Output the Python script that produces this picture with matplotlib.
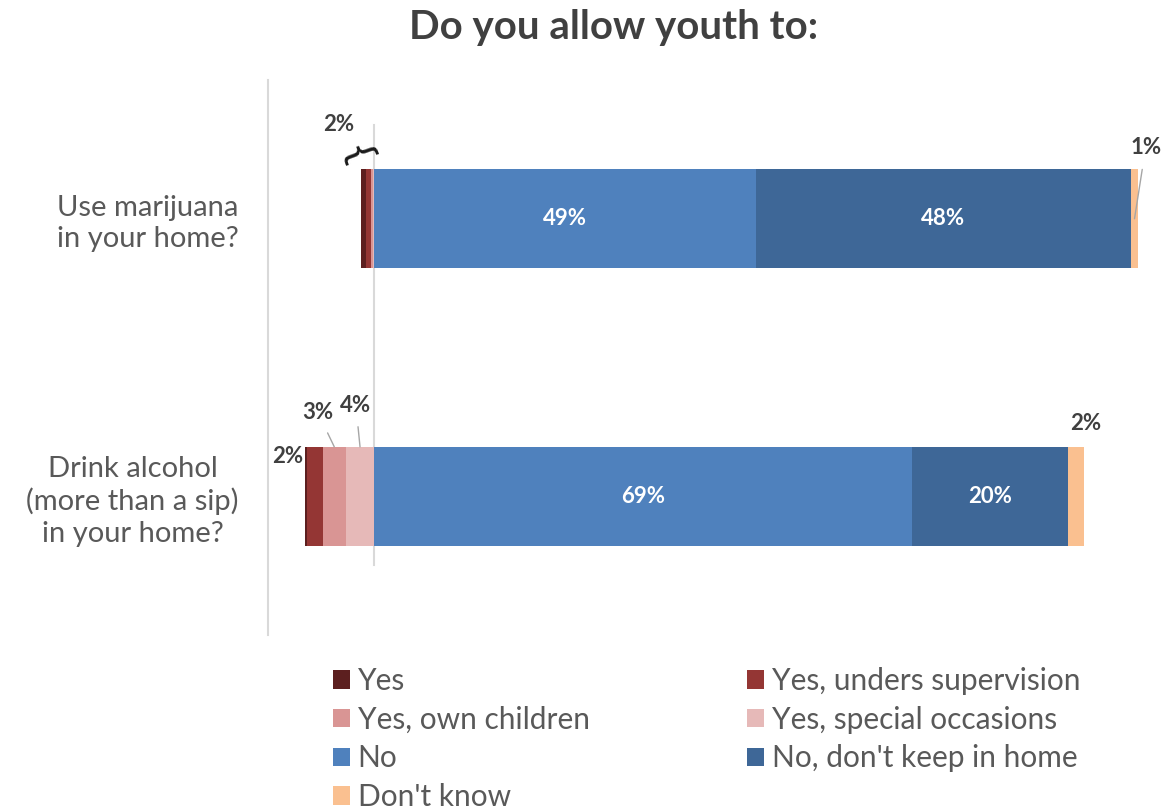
import numpy as np
import matplotlib
matplotlib.use('Agg')
import matplotlib.pyplot as plt

plt.rcParams['font.family'] = ['Lato', 'DejaVu Sans']

categories = ['Use marijuana\nin your home?', 'Drink alcohol\n(more than a sip)\nin your home?']
yes = np.array([0.6, 0.3])
yes_supervision = np.array([0.6, 2.0])
yes_own = np.array([0.25, 3.0])
yes_special = np.array([0.2, 3.6])
no = np.array([49, 69])
no_dont_keep = np.array([48, 20])
dont_know = np.array([1, 2])

colors = {
    'Yes': '#5C1F1F',
    'Yes, unders supervision': '#943634',
    'Yes, own children': '#D99594',
    'Yes, special occasions': '#E6B9B8',
    'No': '#4F81BD',
    "No, don't keep in home": '#3E6797',
    "Don't know": '#FAC090',
}

fig = plt.figure(figsize=(11.68, 8.11), dpi=100)
ax = fig.add_axes([268 / 1168, 1 - 635 / 811, (1154 - 268) / 1168, 555 / 811])

y = np.arange(len(categories))
h = 0.356

# negative side (stacked outward from zero)
left_special = -yes_special
left_own = left_special - yes_own
left_sup = left_own - yes_supervision
left_yes = left_sup - yes
bars = {}
bars['Yes'] = ax.barh(y, yes, left=left_yes, height=h, color=colors['Yes'])
bars['Yes, unders supervision'] = ax.barh(y, yes_supervision, left=left_sup, height=h,
                                          color=colors['Yes, unders supervision'])
bars['Yes, own children'] = ax.barh(y, yes_own, left=left_own, height=h, color=colors['Yes, own children'])
bars['Yes, special occasions'] = ax.barh(y, yes_special, left=left_special, height=h,
                                         color=colors['Yes, special occasions'])
# positive side
bars['No'] = ax.barh(y, no, left=0, height=h, color=colors['No'])
bars["No, don't keep in home"] = ax.barh(y, no_dont_keep, left=no, height=h,
                                         color=colors["No, don't keep in home"])
bars["Don't know"] = ax.barh(y, dont_know, left=no + no_dont_keep, height=h, color=colors["Don't know"])

ax.set_xlim(-13.6, 100)
ax.set_ylim(1.5, -0.5)

# white labels inside blue bars
for i in range(len(categories)):
    ax.text(no[i] / 2, y[i], f'{no[i]}%', ha='center', va='center', color='white',
            fontsize=16, fontweight='bold')
    ax.text(no[i] + no_dont_keep[i] / 2, y[i], f'{no_dont_keep[i]}%', ha='center', va='center',
            color='white', fontsize=16, fontweight='bold')

lab = dict(fontsize=16, fontweight='bold', color='#404040')
lead = dict(arrowstyle='-', color='#A6A6A6', lw=1, shrinkA=6, shrinkB=0)

# marijuana: combined yes label with brace
tot_yes = yes + yes_supervision + yes_own + yes_special
ax.annotate(f'{round(tot_yes[0])}%', xy=(left_yes[0], y[0] - h / 2), xytext=(-16, 32),
            textcoords='offset points', ha='center', va='center', **lab)
ax.annotate('{', xy=(left_yes[0] / 2, y[0] - h / 2), xytext=(-9, 9), textcoords='offset points',
            ha='center', va='center', rotation=-70, fontsize=27, color='#1A1A1A',
            family='DejaVu Sans')
# marijuana don't know
x_dk = no[0] + no_dont_keep[0] + dont_know[0] / 2
ax.annotate(f'{dont_know[0]}%', xy=(x_dk, y[0]), xytext=(8, 51), textcoords='offset points',
            ha='center', va='center', arrowprops=lead, **lab)

# alcohol
ax.annotate(f'{round(yes_supervision[1])}%', xy=(left_yes[1], y[1] - h / 2), xytext=(-1, -7),
            textcoords='offset points', ha='right', va='center', **lab)
ax.annotate(f'{round(yes_own[1])}%', xy=(left_own[1] + yes_own[1] / 2, y[1] - h / 2),
            xytext=(-12, 25), textcoords='offset points', ha='center', va='center',
            arrowprops=lead, **lab)
ax.annotate(f'{round(yes_special[1])}%', xy=(left_special[1] + yes_special[1] / 2, y[1] - h / 2),
            xytext=(-3, 30), textcoords='offset points', ha='center', va='center',
            arrowprops=lead, **lab)
ax.annotate(f'{dont_know[1]}%', xy=(no[1] + no_dont_keep[1] + dont_know[1] / 2, y[1] - h / 2),
            xytext=(7, 17), textcoords='offset points', ha='center', va='center', **lab)

# zero line
ax.axvline(0, ymin=0.126, ymax=0.919, color='#D9D9D9', lw=1.5, zorder=0)

for s in ['top', 'right', 'bottom']:
    ax.spines[s].set_visible(False)
ax.spines['left'].set_color('#D9D9D9')
ax.spines['left'].set_linewidth(1.5)
ax.set_xticks([])
ax.set_yticks(y)
ax.set_yticklabels(categories, fontsize=21, color='#595959', multialignment='center',
                   linespacing=1.25)
ax.tick_params(axis='y', length=0, pad=21)

fig.suptitle('Do you allow youth to:', x=614 / 1168, y=1 - 27 / 811, va='center',
             fontsize=29, fontweight='bold', color='#404040')

order = ['Yes', 'Yes, own children', 'No', "Don't know",
         'Yes, unders supervision', 'Yes, special occasions', "No, don't keep in home"]
fig.legend([bars[k] for k in order], order, loc='upper left', ncol=2,
           bbox_to_anchor=(306 / 1168, 1 - 640 / 811), frameon=False, fontsize=21.5,
           labelcolor='#595959', handlelength=0.58, handleheight=0.58, handletextpad=0.25,
           columnspacing=5.27, labelspacing=0.36)

fig.savefig('out.png', dpi=100)
